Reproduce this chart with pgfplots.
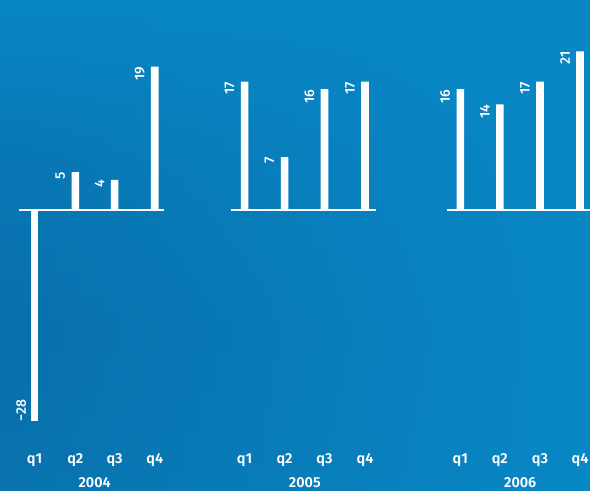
\documentclass[border=0pt]{standalone}
\usepackage{fontspec}
\setmainfont{Fira Sans}[BoldFont={Fira Sans SemiBold}]
\newfontfamily\valfont{Fira Sans Medium}
\usepackage{pgfplots}
\pgfplotsset{compat=1.18}
\usetikzlibrary{fadings}

% background blues
\definecolor{bgtop}{HTML}{0886C5}
\definecolor{bgdeep}{HTML}{096FAB}
\definecolor{bgbottom}{HTML}{0873AE}
\definecolor{bglight}{HTML}{0888C6}

\tikzfading[name=towardsright, left color=transparent!100,
  middle color=transparent!80, right color=transparent!0]

\begin{document}
\begin{tikzpicture}
\path[use as bounding box] (0,0) rectangle (590bp,491bp);
% backdrop: darker towards the lower left, lighter at top and right
\shade[top color=bgtop, bottom color=bgdeep, middle color=bgdeep!70!bgtop]
  (0,160bp) rectangle (590bp,491bp);
\shade[top color=bgdeep, bottom color=bgbottom]
  (0,0) rectangle (590bp,160.5bp);
\fill[bglight, path fading=towardsright] (0,0) rectangle (590bp,491bp);

\begin{axis}[
  at={(0,0)}, anchor=south west,
  scale only axis, width=590bp, height=491bp,
  xmin=0, xmax=590, ymin=-37.22, ymax=27.81,
  axis line style={draw=none},
  major tick length=0pt,
  ytick=\empty,
  xtick={34.6,75.3,114.6,154.7,244.6,284.6,324.5,365,460.3,499.8,540,580},
  xticklabels={q1,q2,q3,q4,q1,q2,q3,q4,q1,q2,q3,q4},
  xticklabel style={anchor=base, yshift=27.7bp, text=white,
    font=\fontsize{14.5}{16}\selectfont\bfseries},
  ybar, bar width=7.6bp, bar shift=0pt,
  point meta=explicit symbolic,
  every node near coord/.append style={text=white, inner sep=0pt,
    font=\fontsize{14}{16}\selectfont\valfont},
  clip=false,
]
% zero lines of the three years
\addplot[sharp plot, no marks, white, line width=2.2bp, forget plot]
  coordinates {(18.8,0) (164.1,0)};
\addplot[sharp plot, no marks, white, line width=2.2bp, forget plot]
  coordinates {(230.7,0) (375.6,0)};
\addplot[sharp plot, no marks, white, line width=2.2bp, forget plot]
  coordinates {(447,0) (590,0)};

% positive quarters
\addplot[fill=white, draw=none, nodes near coords,
  nodes near coords style={xshift=-15bp, rotate=90, anchor=east}]
  coordinates {
    (75.3,5) [5] (114.6,4) [4] (154.7,19) [19]
    (244.6,17) [17] (284.6,7) [7] (324.5,16) [16] (365,17) [17]
    (460.3,16) [16] (499.8,14) [14] (540,17) [17] (580,21) [21]
  };
% negative quarter
\addplot[fill=white, draw=none, nodes near coords,
  nodes near coords style={xshift=-13.5bp, rotate=90, anchor=west}]
  coordinates {(34.6,-28) [−28]};

% years
\node[text=white, font=\fontsize{14.5}{16}\selectfont\bfseries, anchor=base]
  at (axis cs:94.65,-36.73) {2004};
\node[text=white, font=\fontsize{14.5}{16}\selectfont\bfseries, anchor=base]
  at (axis cs:304.8,-36.73) {2005};
\node[text=white, font=\fontsize{14.5}{16}\selectfont\bfseries, anchor=base]
  at (axis cs:520.2,-36.73) {2006};
\end{axis}
\end{tikzpicture}
\end{document}
